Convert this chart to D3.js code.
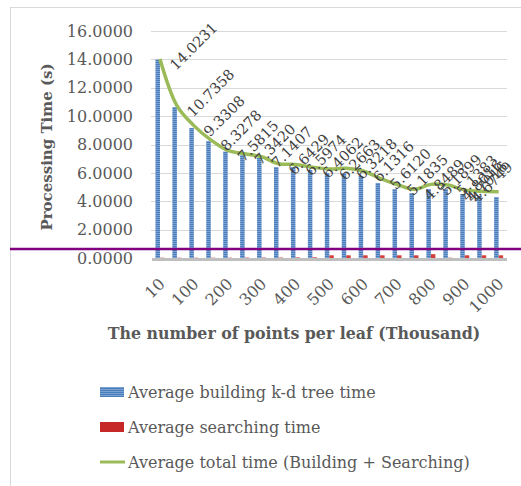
<!DOCTYPE html>
<html>
<head>
<meta charset="utf-8">
<script src="https://cdn.jsdelivr.net/npm/d3@7"></script>
<style>
  body { margin: 0; background: #ffffff; }
  svg { display: block; }
</style>
</head>
<body>
<svg id="chart"></svg>
<script>
var categories = ["10", "50", "100", "150", "200", "250", "300", "350", "400", "450",
  "500", "550", "600", "650", "700", "750", "800", "850", "900", "950", "1000"];
var tickLabels = ["10", "100", "200", "300", "400", "500", "600", "700", "800", "900", "1000"];

var buildTime = [14.00, 10.64, 9.16, 8.25, 7.50, 7.25, 7.05, 6.41, 6.41, 6.20, 5.99,
  5.99, 5.78, 5.29, 4.86, 4.58, 4.86, 4.86, 4.51, 4.37, 4.30];
var searchTime = [0.02, 0.02, 0.02, 0.02, 0.02, 0.03, 0.03, 0.03, 0.04, 0.05, 0.19,
  0.19, 0.19, 0.19, 0.19, 0.19, 0.27, 0.02, 0.19, 0.19, 0.19];
var totalTime = [14.0231, 10.7358, 9.3308, 8.3278, 7.5815, 7.3420, 7.1407, 6.6429, 6.5974, 6.4062, 6.2663,
  6.3218, 6.1316, 5.6120, 5.1835, 4.8489, 5.1899, 5.1383, 4.8016, 4.7016, 4.6749];

var yTicks = [0, 2, 4, 6, 8, 10, 12, 14, 16];
var seriesNames = ["Average building k-d tree time", "Average searching time",
  "Average total time (Building + Searching)"];

var dimensions = {
  width: 521,
  height: 486,
  margin: { top: 31, right: 14, bottom: 228, left: 151.5 },
};

var font = "'DejaVu Serif', serif";
var svg = d3.select("#chart")
  .attr("width", dimensions.width)
  .attr("height", dimensions.height);

// bar fill pattern (narrow horizontal lines)
var defs = svg.append("defs");
var pat = defs.append("pattern")
  .attr("id", "hstripe")
  .attr("patternUnits", "userSpaceOnUse")
  .attr("width", 4).attr("height", 2);
pat.append("rect").attr("width", 4).attr("height", 2).attr("fill", "#4A7EBB");
pat.append("rect").attr("y", 1).attr("width", 4).attr("height", 1).attr("fill", "#7BA1D3");

// outer chart border
svg.append("rect")
  .attr("x", 10.5).attr("y", 7.5)
  .attr("width", 530).attr("height", 500)
  .attr("fill", "none")
  .attr("stroke", "#D9D9D9");

var xScale = d3.scaleBand()
  .domain(categories)
  .range([dimensions.margin.left, 507.1])
  .padding(0);

var xSeries = d3.scaleBand()
  .domain(["build", "search"])
  .range([0, xScale.bandwidth()])
  .paddingOuter(0.88);

var yScale = d3.scaleLinear()
  .domain([0, 16])
  .range([258, 31]);

// gridlines
svg.append("g")
  .selectAll("line")
  .data(yTicks.filter((d) => d > 0))
  .enter()
  .append("line")
  .attr("x1", 151)
  .attr("x2", 507)
  .attr("y1", (d) => Math.round(yScale(d)) + 0.5)
  .attr("y2", (d) => Math.round(yScale(d)) + 0.5)
  .attr("stroke", "#D9D9D9");

// y tick labels
var yAxisgen = d3.axisLeft(yScale)
  .tickValues(yTicks)
  .tickFormat(d3.format(".4f"))
  .tickSize(0)
  .tickPadding(0);
var yAxis = svg.append("g")
  .attr("transform", "translate(133,0)")
  .call(yAxisgen);
yAxis.select(".domain").remove();
yAxis.selectAll("text")
  .attr("font-family", font)
  .attr("font-size", 16)
  .attr("fill", "#595959");

// bars
svg.append("g")
  .selectAll("rect")
  .data(buildTime)
  .enter()
  .append("rect")
  .attr("x", (d, i) => xScale(categories[i]) + xSeries("build"))
  .attr("width", xSeries.bandwidth())
  .attr("y", (d) => yScale(d))
  .attr("height", (d) => yScale(0) - yScale(d))
  .attr("fill", "url(#hstripe)");

svg.append("g")
  .selectAll("rect")
  .data(searchTime)
  .enter()
  .append("rect")
  .attr("x", (d, i) => xScale(categories[i]) + xSeries("search"))
  .attr("width", xSeries.bandwidth())
  .attr("y", (d) => yScale(d))
  .attr("height", (d) => yScale(0) - yScale(d))
  .attr("fill", "#D0403C");

// x axis line
svg.append("line")
  .attr("x1", 152).attr("x2", 507)
  .attr("y1", yScale(0) + 1.5).attr("y2", yScale(0) + 1.5)
  .attr("stroke", "#BFBFBF")
  .attr("stroke-width", 3);

// x tick labels
var xCenter = (c) => xScale(c) + xScale.bandwidth() / 2;
svg.append("g")
  .selectAll("text")
  .data(tickLabels)
  .enter()
  .append("text")
  .attr("transform", (d) => `translate(${xCenter(d) + 2},281) rotate(-45)`)
  .attr("text-anchor", "end")
  .attr("dy", "0.35em")
  .attr("font-family", font)
  .attr("font-size", 16)
  .attr("fill", "#595959")
  .text((d) => d);

// total line
var lineGen = d3.line()
  .x((d, i) => xCenter(categories[i]))
  .y((d) => yScale(d))
  .curve(d3.curveCatmullRom.alpha(0.5));

svg.append("path")
  .datum(totalTime)
  .attr("d", lineGen)
  .attr("fill", "none")
  .attr("stroke", "#9BBB59")
  .attr("stroke-width", 3.5)
  .attr("stroke-linejoin", "round");

// data labels, the last few nudged left so they stay inside the picture
var labelSize = 14.5;
var labelLen = 6 * labelSize * 0.636 + labelSize * 0.318;
var n = totalTime.length;
svg.append("g")
  .selectAll("text")
  .data(totalTime)
  .enter()
  .append("text")
  .attr("transform", function (d, i) {
    var limit = 520 - labelLen * 0.7071 - (n - 1 - i) * 5;
    var lx = Math.min(xCenter(categories[i]) + 16, limit);
    var ly = yScale(d) + 12;
    return `translate(${lx},${ly}) rotate(-45)`;
  })
  .attr("font-family", font)
  .attr("font-size", labelSize)
  .attr("fill", "#404040")
  .text((d) => d3.format(".4f")(d));

// axis titles
svg.append("text")
  .attr("transform", "translate(52,147) rotate(-90)")
  .attr("text-anchor", "middle")
  .attr("font-family", font)
  .attr("font-weight", "bold")
  .attr("font-size", 15)
  .attr("fill", "#595959")
  .text("Processing Time (s)");

svg.append("text")
  .attr("x", 294)
  .attr("y", 339)
  .attr("text-anchor", "middle")
  .attr("font-family", font)
  .attr("font-weight", "bold")
  .attr("font-size", 15.8)
  .attr("fill", "#595959")
  .text("The number of points per leaf (Thousand)");

// legend
var legend = svg.append("g");
var legendY = [392, 427, 462];
legend.append("rect")
  .attr("x", 100).attr("y", legendY[0] - 5)
  .attr("width", 24).attr("height", 10)
  .attr("fill", "url(#hstripe)");
legend.append("rect")
  .attr("x", 100).attr("y", legendY[1] - 5)
  .attr("width", 24).attr("height", 10)
  .attr("fill", "#C62828");
legend.append("line")
  .attr("x1", 100).attr("x2", 125)
  .attr("y1", legendY[2]).attr("y2", legendY[2])
  .attr("stroke", "#9BBB59")
  .attr("stroke-width", 3);
legend.selectAll("text")
  .data(seriesNames)
  .enter()
  .append("text")
  .attr("x", 128)
  .attr("y", (d, i) => legendY[i])
  .attr("dy", "0.35em")
  .attr("font-family", font)
  .attr("font-size", 16)
  .attr("fill", "#595959")
  .text((d) => d);

// purple marker line across the chart
svg.append("line")
  .attr("x1", 10).attr("x2", 521)
  .attr("y1", 249).attr("y2", 249)
  .attr("stroke", "#800080")
  .attr("stroke-width", 2.5);
</script>
</body>
</html>
